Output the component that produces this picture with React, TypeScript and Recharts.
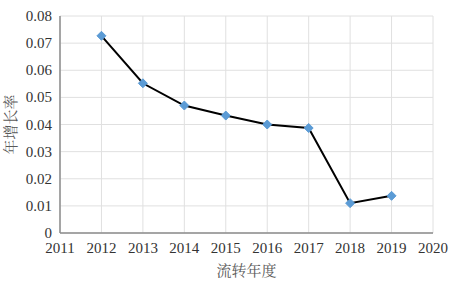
import React from 'react';
import { LineChart, Line, XAxis, YAxis, CartesianGrid, Label } from 'recharts';

const years = [2012, 2013, 2014, 2015, 2016, 2017, 2018, 2019];
const growth = [0.0727, 0.0552, 0.047, 0.0433, 0.04, 0.0387, 0.011, 0.0137];
const xTicks = [2011, 2012, 2013, 2014, 2015, 2016, 2017, 2018, 2019, 2020];
const yTicks = [0, 0.01, 0.02, 0.03, 0.04, 0.05, 0.06, 0.07, 0.08];
const xTitle = '流转年度';
const yTitle = '年增长率';

const data = years.map((y, i) => ({ year: y, rate: growth[i] }));

const NUM_FONT = 'Liberation Serif';
const CJK_FONT = 'Noto Serif CJK SC';
const TICK_COLOR = '#333333';
const TITLE_COLOR = '#595959';

const Diamond = (props: any) => {
  const { cx, cy } = props;
  if (cx == null || cy == null) return null;
  const r = 4.5;
  return (
    <polygon
      points={`${cx},${cy - r} ${cx + r},${cy} ${cx},${cy + r} ${cx - r},${cy}`}
      fill="#5b9bd5"
      stroke="#5b9bd5"
      strokeWidth={1}
    />
  );
};

const XTick = (props: any) => {
  const { x, y, payload } = props;
  return (
    <text
      className="num-tick"
      x={x}
      y={y}
      dy={16}
      textAnchor="middle"
      fill={TICK_COLOR}
      fontFamily={NUM_FONT}
      fontSize={15}
      style={{ fontFamily: `"${NUM_FONT}"`, fontSize: 15 }}
    >
      {payload.value}
    </text>
  );
};

const YTick = (props: any) => {
  const { x, y, payload } = props;
  const v = payload.value as number;
  return (
    <text
      className="num-tick"
      x={x}
      y={y}
      dy={5}
      textAnchor="end"
      fill={TICK_COLOR}
      fontFamily={NUM_FONT}
      fontSize={15}
      style={{ fontFamily: `"${NUM_FONT}"`, fontSize: 15 }}
    >
      {v === 0 ? '0' : v.toFixed(2)}
    </text>
  );
};

const XTitle = (props: any) => {
  const vb = props.viewBox || {};
  const cx = vb.x + vb.width / 2;
  return (
    <text
      className="cjk-title"
      x={cx}
      y={276}
      textAnchor="middle"
      fill={TITLE_COLOR}
      fontFamily={CJK_FONT}
      fontSize={15}
      style={{ fontFamily: `"${CJK_FONT}"`, fontSize: 15 }}
    >
      {xTitle}
    </text>
  );
};

const YTitle = (props: any) => {
  const vb = props.viewBox || {};
  const cy = vb.y + vb.height / 2;
  const cx = 9;
  return (
    <text
      className="cjk-title"
      x={cx}
      y={cy}
      textAnchor="middle"
      dominantBaseline="central"
      transform={`rotate(-90, ${cx}, ${cy})`}
      fill={TITLE_COLOR}
      fontFamily={CJK_FONT}
      fontSize={15}
      style={{ fontFamily: `"${CJK_FONT}"`, fontSize: 15 }}
    >
      {yTitle}
    </text>
  );
};

const css = `
.num-tick { font-family: "Liberation Serif" !important; }
.cjk-title { font-family: "Noto Serif CJK SC" !important; }
`;

export default function App() {
  return (
    <div style={{ position: 'absolute', left: 0, top: 0, background: '#fff' }}>
      <style>{css}</style>
      <LineChart width={451} height={284} data={data} margin={{ top: 16, right: 18, bottom: 0, left: 0 }}>
        <CartesianGrid stroke="#e0e0e0" strokeWidth={1} />
        <XAxis
          dataKey="year"
          type="number"
          domain={[2011, 2020]}
          ticks={xTicks}
          interval={0}
          height={51}
          tickLine={false}
          tickSize={0}
          tickMargin={4}
          axisLine={{ stroke: '#8c8c8c', strokeWidth: 1.5 }}
          tick={(p: any) => <XTick {...p} />}
        >
          <Label content={(p: any) => <XTitle {...p} />} />
        </XAxis>
        <YAxis
          type="number"
          domain={[0, 0.08]}
          ticks={yTicks}
          interval={0}
          width={60}
          tickLine={false}
          tickSize={0}
          tickMargin={8}
          axisLine={{ stroke: '#8c8c8c', strokeWidth: 1.5 }}
          tick={(p: any) => <YTick {...p} />}
        >
          <Label content={(p: any) => <YTitle {...p} />} />
        </YAxis>
        <Line
          type="linear"
          dataKey="rate"
          stroke="#000000"
          strokeWidth={2}
          dot={(p: any) => <Diamond key={`d-${p.index}`} {...p} />}
          activeDot={false}
          isAnimationActive={false}
        />
      </LineChart>
    </div>
  );
}
